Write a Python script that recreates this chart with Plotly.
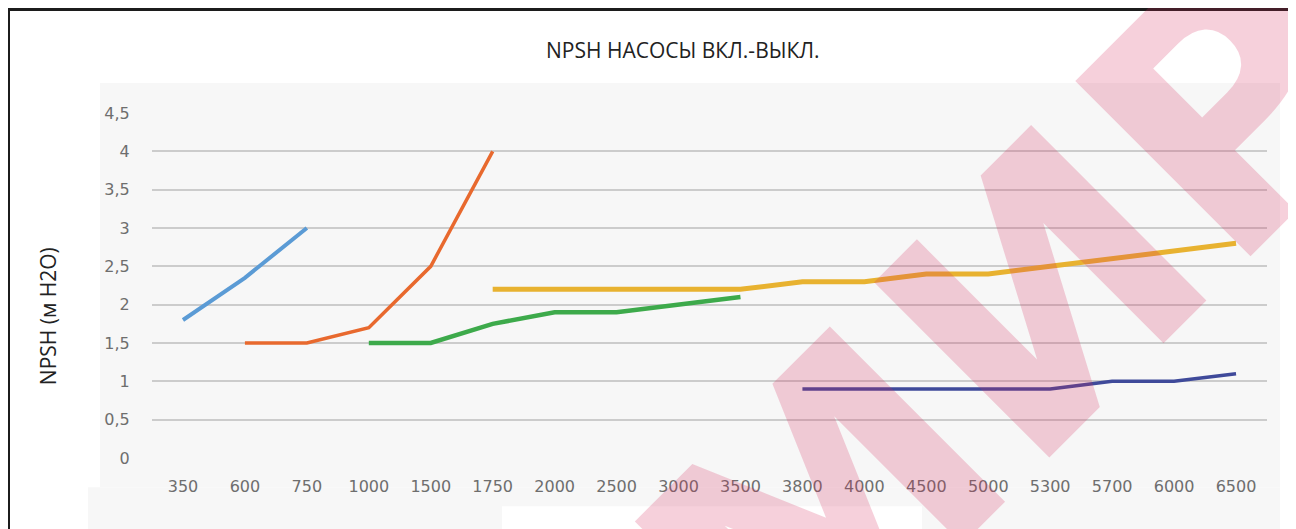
import plotly.graph_objects as go

# ---- data ----
categories = ["350", "600", "750", "1000", "1500", "1750", "2000", "2500", "3000",
              "3500", "3800", "4000", "4500", "5000", "5300", "5700", "6000", "6500"]

s1_x = ["350", "600", "750"]
s1_y = [1.8, 2.35, 3.0]

s2_x = ["600", "750", "1000", "1500", "1750"]
s2_y = [1.5, 1.5, 1.7, 2.5, 4.0]

s3_x = ["1000", "1500", "1750", "2000", "2500", "3000", "3500"]
s3_y = [1.5, 1.5, 1.75, 1.9, 1.9, 2.0, 2.1]

s4_x = ["1750", "2000", "2500", "3000", "3500", "3800", "4000", "4500", "5000",
        "5300", "5700", "6000", "6500"]
s4_y = [2.2, 2.2, 2.2, 2.2, 2.2, 2.3, 2.3, 2.4, 2.4, 2.5, 2.6, 2.7, 2.8]

s5_x = ["3800", "4000", "4500", "5000", "5300", "5700", "6000", "6500"]
s5_y = [0.9, 0.9, 0.9, 0.9, 0.9, 1.0, 1.0, 1.1]

y_ticks = [0, 0.5, 1, 1.5, 2, 2.5, 3, 3.5, 4, 4.5]
y_ticktext = ["0", "0,5", "1", "1,5", "2", "2,5", "3", "3,5", "4", "4,5"]
grid_ticks = [0, 0.5, 1, 1.5, 2, 2.5, 3, 3.5, 4]

title_text = "NPSH НАСОСЫ ВКЛ.-ВЫКЛ."
y_title = "NPSH (м H2O)"
watermark = "ЭМИР"

# ---- layout geometry (screen pixels; page body has an 8px margin) ----
OFF = 8
W, H = 1288, 521
L, R, T, B = 152, 1267, 113, 457.7


def fx(p):
    return (p - L) / (R - L)


def fy(p):
    return (B - p) / (B - T)


fig = go.Figure()

series = [
    (s1_x, s1_y, "#5B9BD5", 4),
    (s2_x, s2_y, "#E8692E", 3.5),
    (s3_x, s3_y, "#3DAA4B", 4.5),
    (s4_x, s4_y, "#E8B230", 5),
    (s5_x, s5_y, "#3F4A9A", 3.5),
]
for xs, ys, col, w in series:
    fig.add_trace(go.Scatter(x=xs, y=ys, mode="lines",
                             line=dict(color=col, width=w, shape="linear"),
                             showlegend=False, hoverinfo="x+y"))

# empty trace to host the gridline axis
fig.add_trace(go.Scatter(x=[], y=[], yaxis="y2", showlegend=False, hoverinfo="skip"))

tick_font = dict(family="DejaVu Sans", size=16, color="#6e6e6e")

shapes = [
    # light gray chart panel
    dict(type="rect", xref="paper", yref="paper", layer="below",
         x0=fx(100), x1=fx(1280), y0=fy(487), y1=fy(83),
         fillcolor="#f7f7f7", line=dict(width=0)),
    dict(type="rect", xref="paper", yref="paper", layer="below",
         x0=fx(88), x1=fx(1280), y0=fy(540), y1=fy(487),
         fillcolor="#f7f7f7", line=dict(width=0)),
    dict(type="rect", xref="paper", yref="paper", layer="below",
         x0=fx(502), x1=fx(922), y0=fy(540), y1=fy(506),
         fillcolor="#ffffff", line=dict(width=0)),
    # black frame (top and left edges visible)
    dict(type="rect", xref="paper", yref="paper", layer="above",
         x0=fx(8.5), x1=fx(1320), y0=fy(560), y1=fy(9.5),
         fillcolor="rgba(0,0,0,0)", line=dict(color="#1c1c1c", width=3)),
]

annotations = [
    dict(text=title_text, x=fx(683), y=fy(50), xref="paper", yref="paper",
         showarrow=False, xanchor="center", yanchor="middle",
         font=dict(family="Open Sans", size=21, color="#222222")),
    dict(text=y_title, x=fx(48), y=fy(316), xref="paper", yref="paper",
         showarrow=False, xanchor="center", yanchor="middle", textangle=-90,
         font=dict(family="Open Sans", size=21, color="#222222")),
    # watermark
    dict(text="<b>" + watermark + "</b>", x=fx(925), y=fy(415), xref="paper", yref="paper",
         showarrow=False, xanchor="center", yanchor="middle", textangle=-45,
         font=dict(family="DejaVu Sans", size=340, color="rgba(214,40,90,0.22)")),
]

fig.update_layout(
    width=W, height=H,
    margin=dict(l=L - OFF, r=(OFF + W) - R, t=T - OFF, b=(OFF + H) - B, pad=0),
    paper_bgcolor="#ffffff",
    plot_bgcolor="rgba(0,0,0,0)",
    showlegend=False,
    xaxis=dict(type="category", categoryorder="array", categoryarray=categories,
               range=[-0.5, len(categories) - 0.5], showgrid=False, zeroline=False,
               showline=False, ticks="outside", ticklen=14, tickcolor="rgba(0,0,0,0)",
               tickfont=tick_font, fixedrange=True),
    yaxis=dict(range=[0, 4.5], tickvals=y_ticks, ticktext=y_ticktext,
               showgrid=False, zeroline=False, showline=False,
               ticks="outside", ticklen=18, tickcolor="rgba(0,0,0,0)",
               tickfont=tick_font),
    yaxis2=dict(range=[0, 4.5], overlaying="y", tickvals=grid_ticks,
                showticklabels=False, showgrid=True, gridcolor="#cccccc",
                gridwidth=1.5, zeroline=False, showline=False),
    shapes=shapes,
    annotations=annotations,
)

fig.write_html("out.html")
